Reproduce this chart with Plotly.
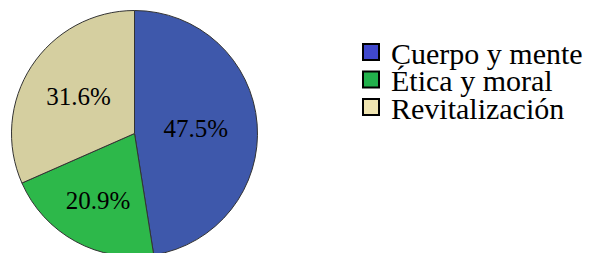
import plotly.graph_objects as go

categories = ["Cuerpo y mente", "Ética y moral", "Revitalización"]
values = [47.5, 20.9, 31.6]
slice_colors = ["#3E58AB", "#2DB84A", "#D5CFA0"]
legend_colors = ["#4048CC", "#22B14C", "#EFE4B0"]

W, H = 591, 257
FONT = "Liberation Serif"

fig = go.Figure()
fig.add_trace(go.Pie(
    labels=categories, values=values, sort=False, direction="clockwise",
    rotation=0, textinfo="percent", textposition="inside",
    insidetextorientation="horizontal",
    marker=dict(colors=slice_colors, line=dict(color="#333333", width=1)),
    textfont=dict(family=FONT, size=25, color="black"),
    showlegend=False,
    domain=dict(x=[11 / W, 258 / W], y=[0.5 / H, 1 - 10.5 / H]),
    hoverinfo="label+percent",
))

legend_ys = [1 - 52 / H, 1 - 79.5 / H, 1 - 107 / H]
for i, (name, col) in enumerate(zip(categories, legend_colors)):
    lname = "legend" if i == 0 else f"legend{i+1}"
    fig.add_trace(go.Scatter(
        x=[None], y=[None], mode="markers", name=name,
        marker=dict(symbol="square", size=16, color=col,
                    line=dict(color="black", width=2)),
        legend=lname, showlegend=True,
    ))

legend_cfg = dict(font=dict(family=FONT, size=30, color="black"),
                  bgcolor="rgba(0,0,0,0)", borderwidth=0,
                  xanchor="left", yanchor="middle", x=351 / W,
                  itemsizing="trace")
layout_legends = {}
for i, y in enumerate(legend_ys):
    key = "legend" if i == 0 else f"legend{i+1}"
    layout_legends[key] = dict(legend_cfg, y=y)

fig.update_layout(
    width=W, height=H, margin=dict(l=0, r=0, t=0, b=0),
    paper_bgcolor="white", plot_bgcolor="white",
    xaxis=dict(visible=False), yaxis=dict(visible=False),
    **layout_legends,
)

fig.write_html(
    "out.html",
    config={"displayModeBar": False},
    post_script="document.body.style.margin='0';document.body.style.overflow='hidden';",
)
